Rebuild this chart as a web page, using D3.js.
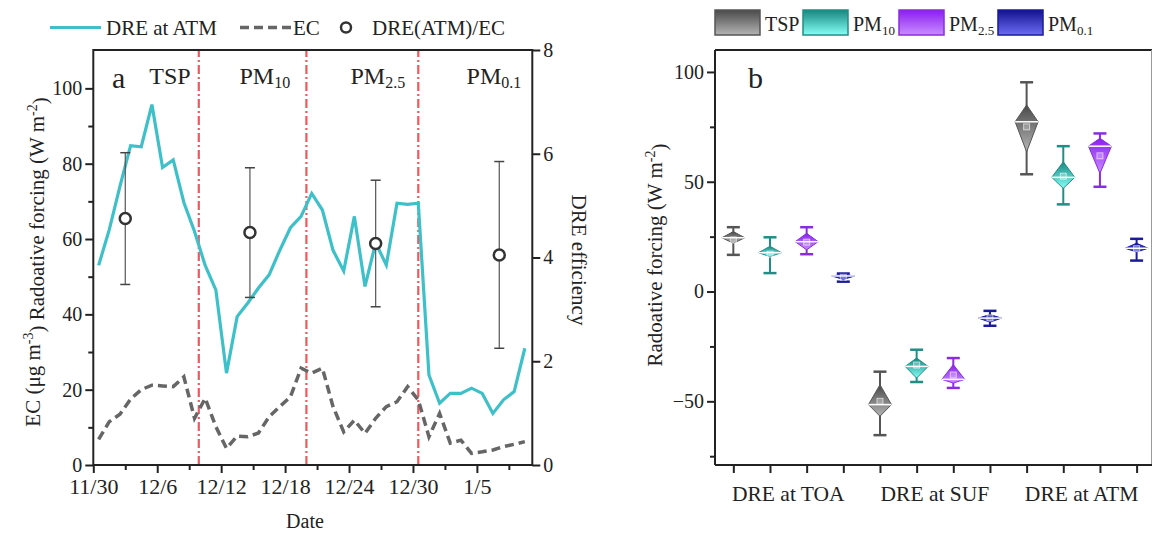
<!DOCTYPE html>
<html>
  <head>
    <script src="https://d3js.org/d3.v7.min.js"></script>
    <style>
      body { margin: 0; background: #fff; }
      text { font-family: "Liberation Serif", "DejaVu Serif", serif; fill: #222; }
      .tick text { font-size: 20px; }
      .xt .tick text { font-size: 22px; }
      .axis path, .axis line { stroke: #222; stroke-width: 2; }
    </style>
  </head>
  <body>
    <div id="chart"></div>
    <script>
      // ---- panel a data (daily, starting 11/30) ----
      const dreAtm = [53, 62.5, 74, 84.8, 84.5, 95.7, 79, 81, 69.7, 62, 53, 46.5, 24.4, 39.4, 43, 47,
        50.5, 57, 63, 66, 72.1, 67.7, 57, 51.5, 66, 47.4, 59, 53.1, 69.5, 69.2, 69.5, 23.9, 16.4,
        19, 19, 20.4, 19, 13.7, 17.3, 19.5, 31];
      const ecConc = [6.8, 11.5, 13.5, 17.5, 20, 21.2, 21, 20.8, 23.4, 12.4, 17.7, 10.2, 4.4, 7.7,
        7.5, 8.5, 12.8, 15.5, 18.1, 25.7, 24.4, 25.7, 15.5, 8.8, 11.9, 8.4, 12.4, 15.5, 16.8, 20.8,
        17.3, 7.5, 13.7, 5.8, 6.6, 3.1, 3.5, 4, 4.9, 5.5, 6.2];
      const ratioDay = [3.0, 14.7, 26.5, 38.1];
      const ratioMean = [4.75, 4.48, 4.27, 4.05];
      const ratioErr = [1.27, 1.25, 1.22, 1.8];
      const phaseBreaks = [9.9, 20.0, 30.5];
      const phaseLabels = [["TSP", ""], ["PM", "10"], ["PM", "2.5"], ["PM", "0.1"]];
      const phaseCenter = [7.2, 16.1, 26.7, 37.6];

      // ---- panel b data: [min, q1, median, q3, max, mean] per category ----
      const bCategories = ["DRE at TOA", "DRE at SUF", "DRE at ATM"];
      const bSeries = [["TSP", ""], ["PM", "10"], ["PM", "2.5"], ["PM", "0.1"]];
      const tspStats = [[16.7, 22, 24.5, 27.3, 29.3, 23.5], [-65.4, -56.8, -51.5, -42.4, -36.5, -50], [53.4, 63.6, 77.3, 85, 95.3, 75]];
      const pm10Stats = [[8.4, 15.9, 17.7, 20.6, 24.7, 17], [-41.2, -39.4, -34.1, -30.3, -26.5, -33.5], [39.7, 47, 52, 59.1, 66.2, 52.5]];
      const pm25Stats = [[17, 19, 22.7, 26.5, 29.3, 22.5], [-43.9, -41.7, -40, -33.3, -30.3, -38], [47.7, 53.8, 66.2, 69.8, 72, 61.8]];
      const pm01Stats = [[4.5, 5.5, 7.1, 7.8, 8.2, 6.5], [-15.6, -14, -12.1, -10.5, -8.8, -12], [14.1, 18, 19.7, 22, 24, 19.5]];
      const bStats = [tspStats, pm10Stats, pm25Stats, pm01Stats];
      const bDark = ["#4a4a4a", "#15877e", "#8a1ef0", "#12128f"];
      const bLight = ["#b4b4b4", "#86fff8", "#c98cff", "#6c6cf5"];
      const bLine = ["#555555", "#1f8f86", "#8a2be2", "#1a1a9a"];

      const svg = d3.select("#chart").append("svg").attr("width", 1153).attr("height", 534);
      const defs = svg.append("defs");
      bDark.forEach((c, i) => {
        const g = defs.append("linearGradient").attr("id", "grad" + i)
          .attr("x1", 0).attr("y1", 0).attr("x2", 0).attr("y2", 1);
        g.append("stop").attr("offset", "0%").attr("stop-color", c);
        g.append("stop").attr("offset", "100%").attr("stop-color", bLight[i]);
      });

      function subText(sel, parts, size) {
        sel.append("tspan").text(parts[0]);
        if (parts[1]) sel.append("tspan").attr("font-size", size).attr("dy", "0.28em").text(parts[1]);
      }

      // ================= panel a =================
      const day0 = new Date(2019, 10, 30);
      const dayDate = (d) => new Date(day0.getTime() + d * 86400000);
      const xA = d3.scaleTime().domain([day0, dayDate(41.2)]).range([93.3, 532.3]);
      const yA = d3.scaleLinear().domain([0, 110]).range([465, 50.7]);
      const yR = d3.scaleLinear().domain([0, 8]).range([465, 50]);

      // phase dividers
      svg.selectAll(".phase").data(phaseBreaks).enter().append("line")
        .attr("x1", (d) => xA(dayDate(d))).attr("x2", (d) => xA(dayDate(d)))
        .attr("y1", yA.range()[0]).attr("y2", yR.range()[1])
        .attr("stroke", "#ec5a60").attr("stroke-width", 2.2).attr("stroke-dasharray", "9,3,2,3");

      // DRE at ATM and EC lines
      const lineA = d3.line().x((d, i) => xA(dayDate(i + 0.5))).y((d) => yA(d));
      svg.append("path").datum(dreAtm).attr("d", lineA).attr("fill", "none")
        .attr("stroke", "#3ec0c8").attr("stroke-width", 3.2);
      svg.append("path").datum(ecConc).attr("d", lineA).attr("fill", "none")
        .attr("stroke", "#666").attr("stroke-width", 3.5).attr("stroke-dasharray", "9,5");

      // ratio points with error bars
      const rat = svg.selectAll(".ratio").data(ratioMean).enter().append("g");
      rat.append("line")
        .attr("x1", (d, i) => xA(dayDate(ratioDay[i]))).attr("x2", (d, i) => xA(dayDate(ratioDay[i])))
        .attr("y1", (d, i) => yR(d + ratioErr[i])).attr("y2", (d, i) => yR(d - ratioErr[i]))
        .attr("stroke", "#555").attr("stroke-width", 1.2);
      [1, -1].forEach((s) => {
        rat.append("line")
          .attr("x1", (d, i) => xA(dayDate(ratioDay[i])) - 5).attr("x2", (d, i) => xA(dayDate(ratioDay[i])) + 5)
          .attr("y1", (d, i) => yR(d + s * ratioErr[i])).attr("y2", (d, i) => yR(d + s * ratioErr[i]))
          .attr("stroke", "#444").attr("stroke-width", 1.5);
      });
      rat.append("circle")
        .attr("cx", (d, i) => xA(dayDate(ratioDay[i]))).attr("cy", (d) => yR(d)).attr("r", 5.5)
        .attr("fill", "#fff").attr("stroke", "#333").attr("stroke-width", 2.5);

      // axes
      svg.append("g").attr("class", "axis").attr("transform", "translate(93.3,0)")
        .call(d3.axisLeft(yA).tickValues(d3.range(0, 101, 20)).tickSize(8).tickPadding(3))
        .call((g) => g.select(".domain").remove());
      svg.append("g").attr("class", "axis").attr("transform", "translate(93.3,0)")
        .call(d3.axisLeft(yA).tickValues(d3.range(10, 101, 20)).tickSize(5).tickFormat(""))
        .call((g) => g.select(".domain").remove());
      svg.append("g").attr("class", "axis").attr("transform", "translate(532.3,0)")
        .call(d3.axisRight(yR).tickValues([0, 2, 4, 6, 8]).tickSize(8).tickPadding(3))
        .call((g) => g.select(".domain").remove());
      const dateFmt = d3.timeFormat("%-m/%-d");
      svg.append("g").attr("class", "axis xt").attr("transform", "translate(0,465)")
        .call(d3.axisBottom(xA).tickValues(d3.range(0, 37, 6).map(dayDate)).tickSize(8).tickPadding(5).tickFormat(dateFmt))
        .call((g) => g.select(".domain").remove());
      svg.append("g").attr("class", "axis").attr("transform", "translate(0,465)")
        .call(d3.axisBottom(xA).tickValues(d3.range(3, 41, 6).map(dayDate)).tickSize(5).tickFormat(""))
        .call((g) => g.select(".domain").remove());
      svg.append("rect").attr("x", 93.3).attr("y", 50).attr("width", 439).attr("height", 415)
        .attr("fill", "none").attr("stroke", "#222").attr("stroke-width", 2);

      // panel a texts
      svg.append("text").attr("x", 112).attr("y", 88).attr("font-size", 30).text("a");
      svg.selectAll(".plab").data(phaseLabels).enter().append("text")
        .attr("x", (d, i) => xA(dayDate(phaseCenter[i]))).attr("y", 84)
        .attr("text-anchor", "middle").attr("font-size", 24)
        .each(function (d) { subText(d3.select(this), d, 16); });
      svg.append("text").attr("transform", "translate(40,262) rotate(-90)")
        .attr("text-anchor", "middle").attr("font-size", 21)
        .call((t) => {
          t.append("tspan").text("EC (μg m");
          t.append("tspan").attr("font-size", 14).attr("dy", "-0.5em").text("-3");
          t.append("tspan").attr("dy", "0.5em").text(")  Radoative forcing (W m");
          t.append("tspan").attr("font-size", 14).attr("dy", "-0.5em").text("-2");
          t.append("tspan").attr("dy", "0.5em").text(")");
        });
      svg.append("text").attr("transform", "translate(572,260) rotate(90)")
        .attr("text-anchor", "middle").attr("font-size", 21).text("DRE efficiency");
      svg.append("text").attr("x", 305).attr("y", 528).attr("text-anchor", "middle")
        .attr("font-size", 20).text("Date");

      // panel a legend
      svg.append("line").attr("x1", 50).attr("x2", 101).attr("y1", 27.5).attr("y2", 27.5)
        .attr("stroke", "#3ec0c8").attr("stroke-width", 3.2);
      svg.append("text").attr("x", 106).attr("y", 35).attr("font-size", 21).text("DRE at ATM");
      svg.append("line").attr("x1", 240).attr("x2", 291).attr("y1", 27.5).attr("y2", 27.5)
        .attr("stroke", "#666").attr("stroke-width", 3.5).attr("stroke-dasharray", "9,5");
      svg.append("text").attr("x", 293).attr("y", 35).attr("font-size", 21).text("EC");
      svg.append("circle").attr("cx", 346).attr("cy", 27.5).attr("r", 5)
        .attr("fill", "#fff").attr("stroke", "#333").attr("stroke-width", 2.5);
      svg.append("text").attr("x", 372).attr("y", 35).attr("font-size", 21).text("DRE(ATM)/EC");

      // ================= panel b =================
      const xB = d3.scaleLinear().domain([0.5, 12.42]).range([715, 1152]);
      const yB = d3.scaleLinear().domain([-79, 110]).range([465, 50]);

      svg.append("line").attr("x1", 715).attr("x2", 1152).attr("y1", 50).attr("y2", 50)
        .attr("stroke", "#222").attr("stroke-width", 2);
      svg.append("line").attr("x1", 1151.5).attr("x2", 1151.5).attr("y1", 50).attr("y2", 465)
        .attr("stroke", "#999").attr("stroke-width", 1);

      svg.append("g").attr("class", "axis").attr("transform", "translate(715,0)")
        .call(d3.axisLeft(yB).tickValues([-50, 0, 50, 100]).tickSize(8).tickPadding(3))
        .call((g) => g.select(".domain").attr("d", `M0,${yB.range()[0]}V${yB.range()[1]}`));
      svg.append("g").attr("class", "axis").attr("transform", "translate(715,0)")
        .call(d3.axisLeft(yB).tickValues([-75, -25, 25, 75]).tickSize(5).tickFormat(""))
        .call((g) => g.select(".domain").remove());
      svg.append("g").attr("class", "axis").attr("transform", "translate(0,465)")
        .call(d3.axisBottom(xB).tickValues(d3.range(1, 13)).tickSize(8).tickFormat(""))
        .call((g) => g.select(".domain").attr("d", `M${xB.range()[0]},0H${xB.range()[1]}`));
      svg.selectAll(".cat").data(bCategories).enter().append("text")
        .attr("x", (d, i) => xB(i * 4 + 2.5)).attr("y", 501).attr("text-anchor", "middle")
        .attr("font-size", 21.5).text((d) => d);

      bStats.forEach((stats, s) => {
        const grp = svg.append("g").selectAll("g").data(stats).enter().append("g")
          .attr("transform", (d, c) => `translate(${xB(c * 4 + s + 1)},0)`);
        grp.append("line").attr("x1", 0).attr("x2", 0)
          .attr("y1", (d) => yB(d[0])).attr("y2", (d) => yB(d[4]))
          .attr("stroke", bLine[s]).attr("stroke-width", 2);
        [0, 4].forEach((k) => {
          grp.append("line").attr("x1", -6.5).attr("x2", 6.5)
            .attr("y1", (d) => yB(d[k])).attr("y2", (d) => yB(d[k]))
            .attr("stroke", bLine[s]).attr("stroke-width", 2.5);
        });
        grp.append("path")
          .attr("d", (d) => `M0,${yB(d[3])}L11.5,${yB(d[2])}L0,${yB(d[1])}L-11.5,${yB(d[2])}Z`)
          .attr("fill", `url(#grad${s})`).attr("stroke", bLine[s]).attr("stroke-width", 1);
        grp.append("line").attr("x1", -11.5).attr("x2", 11.5)
          .attr("y1", (d) => yB(d[2])).attr("y2", (d) => yB(d[2]))
          .attr("stroke", "#fff").attr("stroke-width", 1.5);
        grp.append("rect").attr("x", -3).attr("width", 6).attr("height", 6)
          .attr("y", (d) => yB(d[5]) - 3)
          .attr("fill", "rgba(255,255,255,0.25)").attr("stroke", "rgba(255,255,255,0.6)").attr("stroke-width", 1);
      });

      svg.append("text").attr("x", 748).attr("y", 88).attr("font-size", 30).text("b");
      svg.append("text").attr("transform", "translate(662,255) rotate(-90)")
        .attr("text-anchor", "middle").attr("font-size", 21)
        .call((t) => {
          t.append("tspan").text("Radoative forcing (W m");
          t.append("tspan").attr("font-size", 14).attr("dy", "-0.5em").text("-2");
          t.append("tspan").attr("dy", "0.5em").text(")");
        });

      // panel b legend
      const legX = [715, 803, 899, 998];
      const leg = svg.selectAll(".legb").data(bSeries).enter().append("g")
        .attr("transform", (d, i) => `translate(${legX[i]},10)`);
      leg.append("rect").attr("width", 45).attr("height", 25)
        .attr("fill", (d, i) => `url(#grad${i})`).attr("stroke", (d, i) => bLine[i]).attr("stroke-width", 1.5);
      leg.append("text").attr("x", 50).attr("y", 21).attr("font-size", 20)
        .each(function (d) { subText(d3.select(this), d, 13); });
    </script>
  </body>
</html>
